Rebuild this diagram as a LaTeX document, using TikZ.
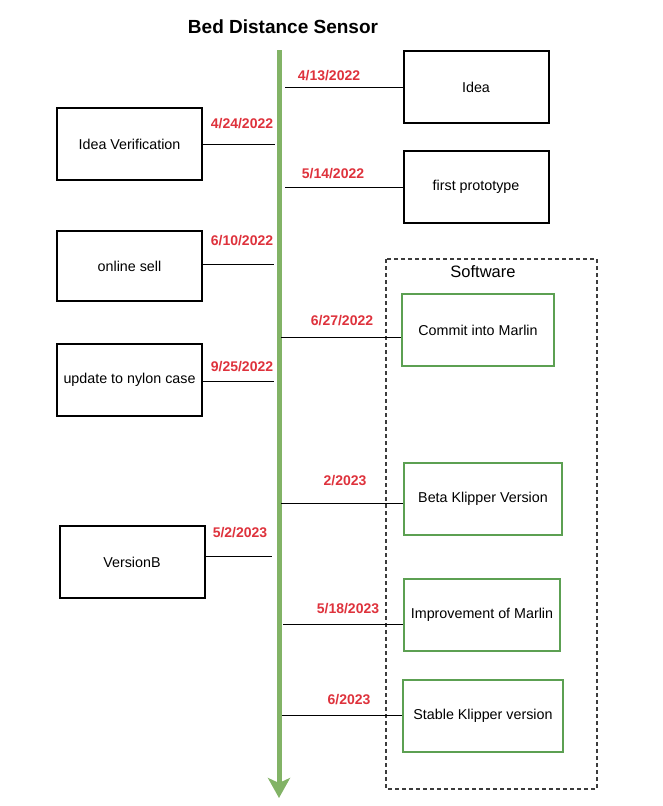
\documentclass[tikz,border=0pt]{standalone}
\usepackage{fontspec}
\setmainfont{Liberation Sans}
\usetikzlibrary{arrows.meta}
\definecolor{datered}{RGB}{222,50,60}
\definecolor{linegreen}{RGB}{130,179,102}
\definecolor{boxgreen}{RGB}{92,160,82}
\definecolor{dashgray}{RGB}{60,60,60}
\tikzset{
    event/.style={draw, line width=2pt, minimum width=145pt, minimum height=72pt, font=\fontsize{14.3}{16}\selectfont},
    swevent/.style={draw=boxgreen, line width=1.5pt, minimum height=72pt, font=\fontsize{14.3}{16}\selectfont},
    datelabel/.style={text=datered, font=\bfseries\fontsize{14}{16}\selectfont},
    tick/.style={line width=1pt}
}

\begin{document}
\begin{tikzpicture}[x=1pt, y=-1pt]
        \useasboundingbox (0,0) rectangle (662,806);
        \node [font=\bfseries\fontsize{19}{22}\selectfont] (title) at (283,27) {Bed Distance Sensor};

        % software part
        \draw [dashgray, line width=1.5pt, dash pattern=on 4pt off 3pt] (386,259) rectangle (597,789);
        \node [font=\fontsize{16.5}{19}\selectfont] (software) at (483,272) {Software};

        % time line
        \coordinate (top) at (279,50);
        \coordinate (bottom) at (279,798);
        \draw [linegreen, line width=5pt, -{Stealth[length=20pt, width=22pt, inset=5pt]}] (top) -- (bottom);

        % events
        \node [event] (idea) at (476,87) {Idea};
        \node [event] (verify) at (129.5,144) {Idea Verification};
        \node [event] (proto) at (476,187) {first prototype};
        \node [event, minimum height=70pt] (sell) at (129.5,266) {online sell};
        \node [swevent, minimum width=152pt] (marlin) at (478,330) {Commit into Marlin};
        \node [event] (nylon) at (129.5,380) {update to nylon case};
        \node [swevent, minimum width=158pt] (beta) at (483,499) {Beta Klipper Version};
        \node [event] (versionb) at (132,562) {VersionB};
        \node [swevent, minimum width=156pt] (improve) at (482,615) {Improvement of Marlin};
        \node [swevent, minimum width=160pt] (stable) at (483,716) {Stable Klipper version};

        % points on the time line
        \coordinate (t1) at (285,87);
        \coordinate (t2) at (275,144);
        \coordinate (t3) at (285,187);
        \coordinate (t4) at (274,264);
        \coordinate (t5) at (281,337);
        \coordinate (t6) at (274,381);
        \coordinate (t7) at (281,503);
        \coordinate (t8) at (272,556);
        \coordinate (t9) at (283,624);
        \coordinate (t10) at (282,715);

        \draw [tick] (t1) -- (idea.west |- t1);
        \draw [tick] (verify.east |- t2) -- (t2);
        \draw [tick] (t3) -- (proto.west |- t3);
        \draw [tick] (sell.east |- t4) -- (t4);
        \draw [tick] (t5) -- (marlin.west |- t5);
        \draw [tick] (nylon.east |- t6) -- (t6);
        \draw [tick] (t7) -- (beta.west |- t7);
        \draw [tick] (versionb.east |- t8) -- (t8);
        \draw [tick] (t9) -- (improve.west |- t9);
        \draw [tick] (t10) -- (stable.west |- t10);

        % dates
        \node [datelabel] (d1) at (329,76) {4/13/2022};
        \node [datelabel] (d2) at (242,124) {4/24/2022};
        \node [datelabel] (d3) at (333,174) {5/14/2022};
        \node [datelabel] (d4) at (242,241) {6/10/2022};
        \node [datelabel] (d5) at (342,321) {6/27/2022};
        \node [datelabel] (d6) at (242,367) {9/25/2022};
        \node [datelabel] (d7) at (345,481) {2/2023};
        \node [datelabel] (d8) at (240,533) {5/2/2023};
        \node [datelabel] (d9) at (348,609) {5/18/2023};
        \node [datelabel] (d10) at (349,700) {6/2023};
    \end{tikzpicture}
\end{document}
